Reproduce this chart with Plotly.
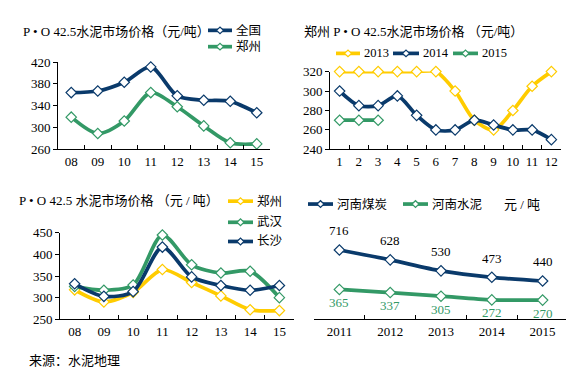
import plotly.graph_objects as go

W, H = 574, 372
NAVY = "#0a3a6b"
GREEN = "#339966"
YELLOW = "#ffcc00"
FONT = "Liberation Serif, Noto Sans CJK SC, serif"

# ---- data ----
years = ["08", "09", "10", "11", "12", "13", "14", "15"]
national = [364, 367, 383, 411, 358, 350, 348, 327]
zhengzhou = [319, 289, 312, 364, 338, 303, 272, 270]

months = ["1", "2", "3", "4", "5", "6", "7", "8", "9", "10", "11", "12"]
zz2013 = [320, 320, 320, 320, 320, 320, 300, 270, 260, 280, 305, 320]
zz2014 = [300, 285, 285, 295, 275, 260, 260, 270, 265, 260, 260, 250]
zz2015 = [270, 270, 270]

zz_city = [318, 290, 312, 365, 335, 304, 272, 270]
wuhan = [326, 317, 329, 445, 376, 357, 361, 300]
changsha = [332, 303, 314, 417, 348, 328, 317, 328]

years4 = ["2011", "2012", "2013", "2014", "2015"]
coal = [716, 628, 530, 473, 440]
cement = [365, 337, 305, 272, 270]


def X(px):
    return px / W


def Y(py):
    return 1 - py / H


fig = go.Figure()


def add_series(x, y, color, xa, ya, name):
    fig.add_trace(go.Scatter(
        x=x, y=y, name=name, mode="lines+markers",
        line=dict(color=color, width=3.7, shape="spline", smoothing=0.8),
        marker=dict(symbol="diamond", size=8, color="white",
                    line=dict(color=color, width=1.2)),
        xaxis=xa, yaxis=ya, showlegend=False, cliponaxis=False))


add_series(years, national, NAVY, "x", "y", "全国")
add_series(years, zhengzhou, GREEN, "x", "y", "郑州")
add_series(months, zz2013, YELLOW, "x2", "y2", "2013")
add_series(months, zz2014, NAVY, "x2", "y2", "2014")
add_series(months[:len(zz2015)], zz2015, GREEN, "x2", "y2", "2015")
add_series(years, zz_city, YELLOW, "x3", "y3", "郑州")
add_series(years, wuhan, GREEN, "x3", "y3", "武汉")
add_series(years, changsha, NAVY, "x3", "y3", "长沙")
add_series(years4, coal, NAVY, "x4", "y4", "河南煤炭")
add_series(years4, cement, GREEN, "x4", "y4", "河南水泥")

annotations = []
# value labels (category index positions on the x4 category axis)
for i, v in enumerate(coal):
    annotations.append(dict(x=i, y=v, xref="x4", yref="y4", text=str(v),
                            showarrow=False, yshift=19,
                            font=dict(family=FONT, size=13, color="black")))
for i, v in enumerate(cement):
    annotations.append(dict(x=i, y=v, xref="x4", yref="y4", text=str(v),
                            showarrow=False, yshift=-13,
                            font=dict(family=FONT, size=13, color=GREEN)))

shapes = []


def legend_item(x0, x1, y, color, text):
    shapes.append(dict(type="line", xref="paper", yref="paper",
                       x0=X(x0), x1=X(x1), y0=Y(y), y1=Y(y),
                       line=dict(color=color, width=3.7)))
    cx = (x0 + x1) / 2
    d = 3.5
    path = "M {},{} L {},{} L {},{} L {},{} Z".format(
        X(cx - d), Y(y), X(cx), Y(y - d), X(cx + d), Y(y), X(cx), Y(y + d))
    shapes.append(dict(type="path", xref="paper", yref="paper", path=path,
                       fillcolor="white", line=dict(color=color, width=1.2)))
    annotations.append(dict(x=X(x1 + 2), y=Y(y), xref="paper", yref="paper",
                            text=text, showarrow=False, xanchor="left",
                            yanchor="middle",
                            font=dict(family=FONT, size=12.5, color="black")))


def label(x, y, text, size=13):
    annotations.append(dict(x=X(x), y=Y(y), xref="paper", yref="paper",
                            text=text, showarrow=False, xanchor="left",
                            yanchor="middle",
                            font=dict(family=FONT, size=size, color="black")))


label(13, 17, "P • O 42.5水泥市场价格（元/吨）")
legend_item(200, 224, 16, NAVY, "全国")
legend_item(200, 224, 33, GREEN, "郑州")

label(294, 17, "郑州 P • O 42.5水泥市场价格 （元/吨）")
legend_item(328, 352, 40, YELLOW, "2013")
legend_item(385, 411, 40, NAVY, "2014")
legend_item(445, 470, 40, GREEN, "2015")

label(9, 193, "P • O 42.5 水泥市场价格 （元 / 吨）")
legend_item(220, 245, 194, YELLOW, "郑州")
legend_item(220, 245, 216, GREEN, "武汉")
legend_item(220, 245, 236, NAVY, "长沙")

legend_item(300, 325, 197, NAVY, "河南煤炭")
legend_item(395, 420, 197, GREEN, "河南水泥")
label(494, 197, "元 / 吨")

label(19, 360, "来源：水泥地理")

tickfont = dict(family=FONT, size=13, color="black")


def xaxis(x0, x1, anchor, n):
    return dict(domain=[X(x0), X(x1)], anchor=anchor, type="category",
                range=[-0.5, n - 0.5], showline=True, linecolor="black",
                linewidth=1, ticks="inside", tickson="boundaries", ticklen=4,
                tickcolor="black", showgrid=False, zeroline=False,
                tickangle=0, tickfont=tickfont, fixedrange=True)


def yaxis(y0, y1, anchor, rng, dtick, visible=True):
    return dict(domain=[Y(y1), Y(y0)], anchor=anchor, range=rng,
                tick0=rng[0], dtick=dtick,
                showline=visible, linecolor="black", linewidth=1,
                ticks="outside" if visible else "", ticklen=4,
                tickcolor="black", showgrid=False, zeroline=False,
                showticklabels=visible, tickfont=tickfont, fixedrange=True)


fig.update_layout(
    width=W, height=H, margin=dict(l=0, r=0, t=0, b=0),
    paper_bgcolor="white", plot_bgcolor="rgba(0,0,0,0)",
    font=dict(family=FONT, size=13, color="black"),
    xaxis=xaxis(50, 262, "y", len(years)),
    yaxis=yaxis(49, 140, "x", [260, 420], 40),
    xaxis2=xaxis(322, 553, "y2", len(months)),
    yaxis2=yaxis(59, 140, "x2", [240, 320], 20),
    xaxis3=xaxis(52, 286, "y3", len(years)),
    yaxis3=yaxis(227, 317, "x3", [250, 450], 50),
    xaxis4=xaxis(306, 560, "y4", len(years4)),
    yaxis4=yaxis(235, 317, "x4", [100, 800], 100, visible=False),
    annotations=annotations, shapes=shapes, showlegend=False,
)

fig.write_html("out.html")
